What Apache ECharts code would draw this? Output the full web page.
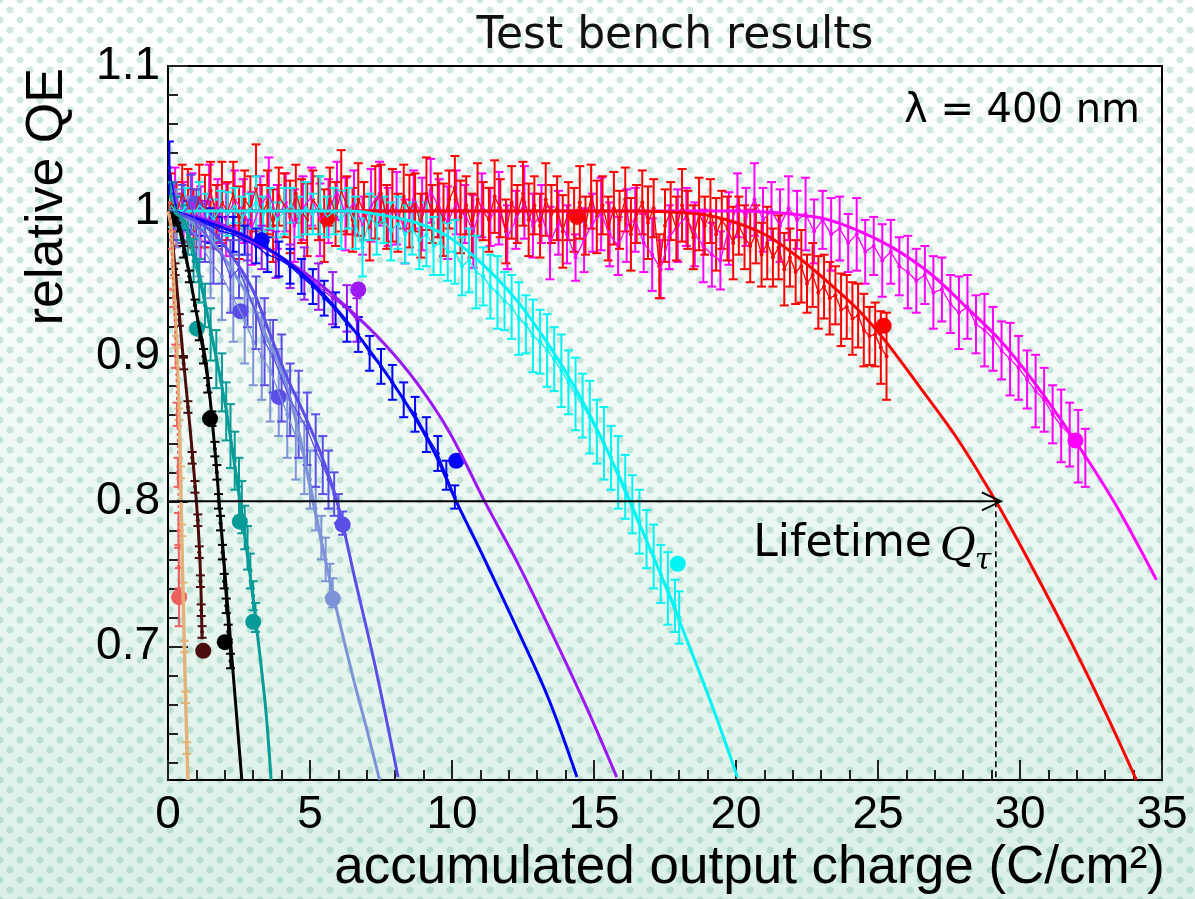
<!DOCTYPE html>
<html>
<head>
<meta charset="utf-8">
<title>Test bench results</title>
<script src="https://cdn.jsdelivr.net/npm/echarts@6/dist/echarts.min.js"></script>
<style>
  html, body { margin: 0; padding: 0; width: 1195px; height: 899px; overflow: hidden; }
  body {
    background-color: #e4f4ee;
    background-image:
      radial-gradient(circle, rgba(96,178,152,0.30) 3.2px, rgba(96,178,152,0) 3.9px),
      radial-gradient(circle, rgba(96,178,152,0.30) 3.2px, rgba(96,178,152,0) 3.9px),
      linear-gradient(to bottom, #ffffff 0%, #f8fcfa 30%, #e8f6f0 65%, #daf0e6 100%);
    background-size: 20px 20px, 20px 20px, 100% 100%;
    background-position: 0 0, 10px 10px, 0 0;
  }
  #chart { width: 1195px; height: 899px; }
</style>
</head>
<body>
<div id="chart"></div>
<script>
// ---- axes ----
const xMin = 0, xMax = 35, xStep = 5;
const yMin = 0.608, yMax = 1.1;
const yMajorTicks = [0.7, 0.8, 0.9, 1.0, 1.1];
const yMinorTicks = [0.62, 0.64, 0.66, 0.68, 0.72, 0.74, 0.76, 0.78, 0.82, 0.84, 0.86, 0.88,
                     0.92, 0.94, 0.96, 0.98, 1.02, 1.04, 1.06, 1.08];

// ---- lifetime marker (QE threshold and charge where the red tube reaches it) ----
const qeThreshold = 0.8;
const lifetimeQ = 29.15;

// ---- measured points: [charge, relative QE, error] ----
const redPoints = [
  [0.1,1.006,0.02],[0.3,0.998,0.022],[0.5,1.012,0.02],[0.7,1.004,0.025],[0.9,0.995,0.02],[1.1,1.01,0.022],
  [1.3,1.0,0.025],[1.5,1.014,0.02],[1.7,0.996,0.022],[1.9,1.006,0.028],[2.1,1.0,0.02],[2.3,1.012,0.022],
  [2.5,0.992,0.025],[2.7,1.008,0.02],[2.9,1.002,0.022],[3.1,1.016,0.03],[3.3,0.998,0.02],[3.5,1.006,0.022],
  [3.7,0.99,0.025],[3.9,1.01,0.02],[4.1,1.004,0.022],[4.3,0.996,0.025],[4.5,1.012,0.02],[4.7,1.0,0.022],
  [4.9,0.994,0.025],[5.1,1.008,0.02],[5.3,1.002,0.022],[5.5,0.99,0.025],[5.7,1.01,0.02],[5.9,0.998,0.022],
  [6.1,1.014,0.028],[6.3,1.004,0.02],[6.5,0.994,0.022],[6.7,1.008,0.025],[6.9,1.0,0.02],[7.1,0.988,0.022],
  [7.3,1.006,0.025],[7.5,1.012,0.02],[7.7,0.996,0.022],[7.9,1.004,0.025],[8.1,0.992,0.02],[8.3,1.01,0.022],
  [8.5,1.0,0.025],[8.7,1.006,0.02],[8.9,0.99,0.022],[9.1,1.012,0.025],[9.3,0.998,0.02],[9.5,1.004,0.022],
  [9.7,0.994,0.025],[9.9,1.008,0.02],[10.1,1.016,0.022],[10.3,0.996,0.025],[10.5,1.004,0.02],[10.7,0.99,0.022],
  [10.9,1.008,0.025],[11.1,1.0,0.02],[11.3,0.994,0.022],[11.5,1.01,0.025],[11.7,1.002,0.02],[11.9,0.986,0.022],
  [12.1,1.006,0.025],[12.3,0.998,0.02],[12.5,1.012,0.022],[12.7,0.994,0.025],[12.9,1.004,0.02],[13.1,0.99,0.022],
  [13.3,1.008,0.025],[13.5,0.998,0.02],[13.7,1.002,0.022],[13.9,0.986,0.025],[14.1,1.0,0.02],[14.3,0.994,0.022],
  [14.5,1.006,0.025],[14.7,0.99,0.02],[14.9,1.01,0.022],[15.1,0.996,0.025],[15.3,1.004,0.02],[15.5,0.988,0.022],
  [15.7,1.002,0.025],[15.9,0.994,0.02],[16.1,1.008,0.022],[16.3,0.984,0.025],[16.5,0.998,0.02],[16.7,1.006,0.022],
  [16.9,0.992,0.025],[17.1,1.002,0.02],[17.3,0.962,0.022],[17.5,0.99,0.025],[17.7,1.0,0.02],[17.9,0.988,0.022],
  [18.1,1.004,0.025],[18.3,0.994,0.02],[18.5,0.982,0.022],[18.7,0.998,0.025],[18.9,0.99,0.02],[19.1,1.0,0.022],
  [19.3,0.984,0.025],[19.5,0.994,0.02],[19.7,0.988,0.022],[19.9,0.978,0.025],[20.1,0.99,0.02],[20.3,0.982,0.022],
  [20.5,0.976,0.025],[20.7,0.984,0.02],[20.9,0.97,0.022],[21.1,0.978,0.025],[21.3,0.968,0.02],[21.5,0.975,0.022],
  [21.7,0.96,0.025],[21.9,0.968,0.02],[22.1,0.958,0.022],[22.3,0.962,0.025],[22.5,0.95,0.02],[22.7,0.956,0.022],
  [22.9,0.944,0.025],[23.1,0.948,0.022],[23.3,0.94,0.025],[23.5,0.942,0.02],[23.7,0.932,0.025],[23.9,0.934,0.022],
  [24.1,0.926,0.025],[24.3,0.928,0.022],[24.5,0.918,0.025],[24.7,0.914,0.02],[24.9,0.915,0.022],[25.1,0.906,0.025],
  [25.3,0.9,0.03]
];
const magentaPoints = [
  [0.25,1.01,0.02],[0.55,0.998,0.022],[0.85,1.006,0.02],[1.15,0.992,0.025],[1.45,1.012,0.02],[1.75,1.0,0.022],
  [2.05,0.994,0.025],[2.35,1.008,0.02],[2.65,1.0,0.022],[2.95,0.988,0.025],[3.25,1.004,0.02],[3.55,1.012,0.025],
  [3.85,0.996,0.022],[4.15,1.006,0.02],[4.45,0.99,0.025],[4.75,1.002,0.022],[5.05,1.01,0.02],[5.35,0.994,0.025],
  [5.65,1.0,0.022],[5.95,1.014,0.02],[6.25,0.998,0.025],[6.55,1.006,0.022],[6.85,0.99,0.02],[7.15,1.004,0.025],
  [7.45,1.012,0.022],[7.75,0.996,0.02],[8.05,1.002,0.025],[8.35,0.986,0.022],[8.65,1.008,0.02],[8.95,0.998,0.025],
  [9.25,1.014,0.022],[9.55,1.002,0.02],[9.85,0.992,0.025],[10.15,1.006,0.022],[10.45,0.998,0.02],[10.75,0.986,0.025],
  [11.05,1.004,0.022],[11.35,0.996,0.02],[11.65,1.002,0.025],[11.95,0.982,0.022],[12.25,0.994,0.02],[12.55,1.006,0.025],
  [12.85,0.99,0.022],[13.15,0.998,0.02],[13.45,0.978,0.025],[13.75,0.992,0.022],[14.05,0.984,0.02],[14.35,0.968,0.016],
  [14.65,0.98,0.022],[14.95,0.992,0.02],[15.25,0.998,0.025],[15.55,0.984,0.022],[15.85,0.976,0.02],[16.15,0.99,0.025],
  [16.45,0.994,0.022],[16.75,0.978,0.02],[17.05,0.97,0.025],[17.35,0.96,0.02],[17.65,0.982,0.022],[17.95,0.99,0.025],
  [18.25,0.996,0.02],[18.55,0.984,0.022],[18.85,0.976,0.025],[19.15,0.97,0.022],[19.45,0.966,0.02],[19.75,0.988,0.025],
  [20.05,1.004,0.022],[20.35,0.996,0.02],[20.65,1.008,0.025],[20.95,0.994,0.022],[21.25,1.0,0.02],[21.55,0.99,0.025],
  [21.85,1.002,0.022],[22.15,0.994,0.02],[22.45,0.998,0.025],[22.75,0.986,0.022],[23.05,0.994,0.02],[23.35,0.984,0.025],
  [23.65,0.988,0.022],[23.95,0.978,0.02],[24.25,0.984,0.025],[24.55,0.972,0.022],[24.85,0.976,0.02],[25.15,0.966,0.025],
  [25.45,0.972,0.022],[25.75,0.962,0.02],[26.05,0.958,0.025],[26.35,0.952,0.022],[26.65,0.956,0.02],[26.95,0.944,0.025],
  [27.25,0.946,0.022],[27.55,0.936,0.02],[27.85,0.93,0.025],[28.15,0.934,0.022],[28.45,0.922,0.02],[28.75,0.918,0.025],
  [29.05,0.912,0.022],[29.35,0.904,0.02],[29.65,0.898,0.025],[29.95,0.892,0.022],[30.25,0.884,0.02],[30.55,0.876,0.025],
  [30.85,0.87,0.022],[31.15,0.86,0.02],[31.45,0.852,0.025],[31.75,0.846,0.022],[32.05,0.838,0.025],[32.3,0.83,0.02]
];
const cyanPoints = [
  [0.1,1.004,0.015],[0.35,0.998,0.012],[0.6,1.002,0.014],[0.85,0.996,0.012],[1.1,1.004,0.016],[1.35,1.0,0.012],
  [1.6,0.994,0.014],[1.85,1.002,0.012],[2.1,0.998,0.015],[2.35,1.004,0.012],[2.6,0.996,0.014],[2.85,1.0,0.012],
  [3.1,1.006,0.018],[3.35,0.998,0.012],[3.6,1.002,0.014],[3.85,0.994,0.012],[4.1,1.0,0.016],[4.35,1.004,0.012],
  [4.6,0.996,0.014],[4.85,1.002,0.018],[5.1,0.998,0.014],[5.35,1.004,0.02],[5.6,0.996,0.014],[5.85,1.0,0.016],
  [6.1,0.994,0.02],[6.35,1.002,0.014],[6.6,0.992,0.018],[6.85,0.975,0.02],[7.1,0.996,0.016],[7.35,0.99,0.02],
  [7.6,0.994,0.016],[7.85,0.986,0.02],[8.1,0.992,0.018],[8.35,0.984,0.02],[8.6,0.988,0.018],[8.85,0.98,0.02],
  [9.1,0.984,0.022],[9.35,0.976,0.02],[9.6,0.978,0.022],[9.85,0.972,0.02],[10.1,0.972,0.022],[10.35,0.962,0.02],
  [10.6,0.966,0.022],[10.85,0.958,0.025],[11.1,0.955,0.02],[11.35,0.948,0.022],[11.6,0.944,0.025],[11.85,0.938,0.02],
  [12.1,0.934,0.022],[12.35,0.926,0.025],[12.6,0.922,0.02],[12.85,0.914,0.025],[13.1,0.91,0.022],[13.35,0.904,0.025],
  [13.6,0.898,0.022],[13.85,0.89,0.025],[14.1,0.882,0.022],[14.35,0.874,0.025],[14.6,0.866,0.022],[14.85,0.858,0.025],
  [15.1,0.848,0.022],[15.35,0.84,0.025],[15.6,0.83,0.022],[15.85,0.82,0.025],[16.1,0.81,0.022],[16.35,0.798,0.02],
  [16.6,0.786,0.022],[16.85,0.774,0.02],[17.1,0.762,0.022],[17.35,0.75,0.02],[17.6,0.74,0.025],[17.85,0.728,0.018],
  [18.0,0.72,0.018]
];
const purplePoints = [
  [0.3,1.0,0.012],[0.8,0.996,0.012],[1.3,0.993,0.014],[1.8,0.99,0.012],[2.3,0.985,0.015],[2.8,0.98,0.014],
  [3.3,0.975,0.015],[3.8,0.97,0.016],[4.3,0.962,0.015],[4.8,0.957,0.018],[5.3,0.948,0.016],[5.8,0.94,0.018],
  [6.3,0.933,0.016],[6.65,0.925,0.015]
];
const bluePoints = [
  [0.05,1.03,0.018],[0.3,1.0,0.01],[0.7,0.997,0.01],[1.1,0.993,0.01],[1.5,0.99,0.012],[1.9,0.986,0.01],
  [2.3,0.984,0.012],[2.7,0.98,0.01],[3.1,0.976,0.012],[3.5,0.97,0.012],[3.9,0.967,0.012],[4.3,0.962,0.012],
  [4.7,0.955,0.012],[5.1,0.948,0.012],[5.5,0.94,0.012],[5.9,0.932,0.012],[6.3,0.922,0.012],[6.7,0.915,0.012],
  [7.1,0.902,0.012],[7.5,0.893,0.012],[7.9,0.882,0.012],[8.3,0.87,0.012],[8.7,0.86,0.012],[9.1,0.846,0.012],
  [9.5,0.833,0.012],[9.8,0.818,0.01],[10.1,0.803,0.008]
];
const darkSlatePoints = [
  [0.2,1.0,0.02],[0.5,0.998,0.02],[0.8,1.005,0.02],[1.0,0.99,0.025],[1.3,0.985,0.02],[1.6,0.975,0.025],
  [1.9,0.97,0.02],[2.2,0.955,0.025],[2.5,0.96,0.02],[2.8,0.945,0.025],[3.1,0.93,0.025],[3.4,0.91,0.03],
  [3.7,0.9,0.025],[4.0,0.885,0.03],[4.3,0.87,0.025],[4.6,0.86,0.03],[4.9,0.85,0.025],[5.2,0.835,0.025],
  [5.45,0.825,0.02],[5.65,0.815,0.02],[5.85,0.805,0.015],[6.0,0.795,0.01],[6.15,0.785,0.008]
];
const lightSlatePoints = [
  [0.3,0.995,0.02],[0.7,0.99,0.02],[1.1,0.98,0.025],[1.5,0.965,0.025],[1.9,0.955,0.03],[2.3,0.94,0.03],
  [2.7,0.925,0.03],[3.0,0.91,0.03],[3.3,0.9,0.03],[3.6,0.89,0.035],[3.9,0.875,0.03],[4.2,0.86,0.03],
  [4.5,0.845,0.03],[4.8,0.83,0.025],[5.0,0.815,0.02],[5.2,0.795,0.015],[5.4,0.775,0.015],[5.55,0.76,0.015],
  [5.7,0.745,0.012],[5.8,0.737,0.01]
];
const tealPoints = [
  [0.1,1.01,0.01],[0.3,1.0,0.01],[0.5,0.992,0.012],[0.7,0.982,0.012],[0.9,0.966,0.015],[1.1,0.952,0.015],
  [1.3,0.935,0.015],[1.5,0.915,0.018],[1.7,0.898,0.02],[1.9,0.882,0.02],[2.05,0.862,0.02],[2.2,0.845,0.022],
  [2.35,0.828,0.02],[2.5,0.81,0.02],[2.6,0.796,0.018],[2.7,0.782,0.015],[2.8,0.768,0.015],[2.9,0.752,0.012],
  [3.0,0.735,0.01],[3.08,0.72,0.01]
];
const blackPoints = [
  [0.15,1.0,0.004],[0.35,0.99,0.004],[0.55,0.972,0.004],[0.75,0.955,0.004],[0.95,0.935,0.004],[1.1,0.915,0.004],
  [1.25,0.9,0.005],[1.4,0.88,0.005],[1.55,0.857,0.005],[1.65,0.836,0.005],[1.72,0.82,0.005],[1.78,0.8,0.005],
  [1.85,0.785,0.005],[1.92,0.765,0.005],[1.98,0.745,0.005],[2.05,0.728,0.005],[2.12,0.71,0.005],[2.2,0.69,0.005]
];
const brownPoints = [
  [0.1,0.99,0.004],[0.25,0.96,0.004],[0.4,0.925,0.004],[0.55,0.895,0.004],[0.7,0.865,0.004],[0.85,0.83,0.004],
  [0.95,0.81,0.004],[1.05,0.787,0.004],[1.1,0.765,0.004],[1.14,0.745,0.004],[1.17,0.725,0.004],[1.2,0.71,0.004]
];
const tanPoints = [
  [0.1,0.99,0.004],[0.2,0.95,0.004],[0.3,0.91,0.004],[0.38,0.86,0.004],[0.44,0.82,0.004],[0.48,0.78,0.004],
  [0.53,0.74,0.004],[0.58,0.7,0.004],[0.62,0.665,0.004],[0.66,0.63,0.004]
];
const salmonPoints = [
  [0.05,1.0,0.006],[0.12,0.98,0.006],[0.2,0.94,0.006],[0.27,0.9,0.008],[0.32,0.86,0.008],[0.35,0.82,0.01],
  [0.37,0.78,0.012],[0.38,0.755,0.015],[0.39,0.734,0.02]
];

// ---- fitted curves: [charge, relative QE] ----
const redFit = [[0,1.0],[4,1.0],[8,1.0],[12,1.0],[16,1.0],[18.7,0.998],[20,0.992],[21.1,0.983],[22.2,0.968],
  [23.3,0.950],[24.3,0.932],[25.2,0.912],[26.5,0.878],[27.8,0.843],[29.15,0.80],[30.5,0.752],[31.8,0.703],
  [33.0,0.655],[34.1,0.608]];
const magentaFit = [[0,1.0],[10,1.0],[16,1.0],[19.9,1.0],[22.8,0.996],[24.0,0.989],[25.5,0.975],[26.9,0.956],
  [28.1,0.934],[29.3,0.911],[30.5,0.882],[31.9,0.843],[33.3,0.80],[34.8,0.746]];
const cyanFit = [[0,1.0],[3,1.0],[6.4,1.0],[7.6,0.997],[8.75,0.992],[9.9,0.982],[11.1,0.963],[12.3,0.938],
  [13.4,0.908],[14.4,0.876],[15.3,0.842],[16.25,0.80],[17.3,0.752],[18.3,0.703],[19.2,0.657],[20.05,0.61]];
const purpleFit = [[0,1.0],[1,0.996],[2,0.99],[3.4,0.975],[5.0,0.955],[6.4,0.932],[7.6,0.909],[8.75,0.882],
  [9.9,0.848],[11.15,0.80],[12.3,0.758],[13.4,0.714],[14.6,0.664],[15.8,0.61]];
const blueFit = [[0,1.0],[1,0.995],[2,0.988],[2.8,0.982],[4.0,0.968],[5.2,0.948],[6.3,0.924],[7.4,0.896],
  [8.5,0.864],[9.4,0.833],[10.15,0.80],[11.1,0.762],[12.25,0.714],[13.4,0.664],[14.4,0.61]];
const darkSlateFit = [[0,1.0],[0.8,0.995],[1.6,0.985],[2.4,0.965],[3.0,0.945],[3.6,0.915],[4.2,0.885],
  [4.8,0.86],[5.4,0.832],[5.95,0.80],[6.6,0.745],[7.3,0.686],[8.1,0.61]];
const lightSlateFit = [[0,1.0],[0.8,0.993],[1.6,0.978],[2.4,0.955],[3.0,0.935],[3.5,0.912],[4.0,0.89],
  [4.6,0.848],[5.1,0.80],[5.8,0.737],[6.5,0.68],[7.0,0.643],[7.45,0.608]];
const tealFit = [[0,1.0],[0.3,0.998],[0.6,0.992],[1.06,0.96],[1.4,0.928],[1.76,0.893],[2.1,0.857],
  [2.53,0.80],[2.9,0.748],[3.2,0.70],[3.45,0.655],[3.63,0.608]];
const blackFit = [[0,1.0],[0.35,0.993],[0.7,0.962],[1.0,0.93],[1.34,0.895],[1.65,0.836],[1.8,0.80],
  [2.1,0.728],[2.35,0.668],[2.6,0.608]];
const brownFit = [[0,1.0],[0.1,0.99],[0.3,0.95],[0.53,0.90],[0.78,0.85],[1.0,0.80],[1.1,0.77],[1.16,0.74],[1.2,0.705]];
const tanFit = [[0,1.0],[0.1,0.99],[0.2,0.95],[0.32,0.90],[0.42,0.84],[0.48,0.78],[0.55,0.72],[0.62,0.665],[0.7,0.608]];

// ---- highlighted measurements (large filled circles) ----
const redDots = [[5.6,0.995],[14.4,0.996],[25.2,0.921]];
const magentaDots = [[31.95,0.842]];
const cyanDots = [[17.95,0.757]];
const purpleDots = [[6.7,0.946]];
const blueDots = [[3.3,0.98],[10.15,0.828]];
const darkSlateDots = [[0.95,1.005],[2.55,0.931],[3.9,0.872],[6.15,0.784]];
const lightSlateDots = [[5.8,0.733]];
const tealDots = [[1.02,0.919],[2.53,0.786],[3.0,0.717]];
const blackDots = [[0.25,0.995],[1.48,0.857],[2.0,0.703]];
const brownDots = [[1.24,0.697]];
const salmonDots = [[0.39,0.734]];

const tubes = [
  { name: 'magenta',    color: '#ff00ff', points: magentaPoints,    fit: magentaFit,    dots: magentaDots },
  { name: 'red',        color: '#ff0000', points: redPoints,        fit: redFit,        dots: redDots },
  { name: 'cyan',       color: '#00f4f4', points: cyanPoints,       fit: cyanFit,       dots: cyanDots },
  { name: 'purple',     color: '#9b19f5', points: purplePoints,     fit: purpleFit,     dots: purpleDots },
  { name: 'blue',       color: '#0000ff', points: bluePoints,       fit: blueFit,       dots: blueDots },
  { name: 'lightSlate', color: '#7d93d8', points: lightSlatePoints, fit: lightSlateFit, dots: lightSlateDots },
  { name: 'darkSlate',  color: '#5b4ee6', points: darkSlatePoints,  fit: darkSlateFit,  dots: darkSlateDots },
  { name: 'teal',       color: '#089b98', points: tealPoints,       fit: tealFit,       dots: tealDots },
  { name: 'black',      color: '#000000', points: blackPoints,      fit: blackFit,      dots: blackDots },
  { name: 'brown',      color: '#4a0d0d', points: brownPoints,      fit: brownFit,      dots: brownDots },
  { name: 'tan',        color: '#e3b27a', points: tanPoints,        fit: tanFit,        dots: [] },
  { name: 'salmon',     color: '#ee5f5f', points: salmonPoints,     fit: null,          dots: salmonDots, dashed: true }
];

const axisFont = 'Liberation Sans, Arial, Helvetica, sans-serif';
const slideFont = 'DejaVu Sans, sans-serif';

function errorBarSeries(tube) {
  const color = tube.color;
  return {
    type: 'custom', name: tube.name + ' errors', coordinateSystem: 'cartesian2d',
    clip: true, silent: true, data: tube.points, encode: { x: 0, y: 1 },
    renderItem: function (params, api) {
      const x = api.value(0), y = api.value(1), e = api.value(2);
      const c = api.coord([x, y]);
      const t = api.coord([x, y + e]);
      const b = api.coord([x, y - e]);
      const w = 4.5;
      const st = { stroke: color, lineWidth: 2 };
      return {
        type: 'group',
        children: [
          { type: 'line', shape: { x1: c[0], y1: t[1], x2: c[0], y2: b[1] }, style: st },
          { type: 'line', shape: { x1: c[0] - w, y1: t[1], x2: c[0] + w, y2: t[1] }, style: st },
          { type: 'line', shape: { x1: c[0] - w, y1: b[1], x2: c[0] + w, y2: b[1] }, style: st },
          { type: 'circle', shape: { cx: c[0], cy: c[1], r: 2 }, style: { fill: color } }
        ]
      };
    }
  };
}

const series = [];
tubes.forEach(function (tube) {
  series.push({
    type: 'line', name: tube.name + ' data', data: tube.points.map(p => [p[0], p[1]]),
    showSymbol: false, silent: true,
    lineStyle: { color: tube.color, width: 1.3, type: tube.dashed ? [3, 3] : 'solid' }
  });
  series.push(errorBarSeries(tube));
  if (tube.fit) {
    series.push({
      type: 'line', name: tube.name + ' fit', data: tube.fit, showSymbol: false, silent: true,
      smooth: 0.35,
      lineStyle: { color: tube.color, width: tube.name === 'tan' ? 3.5 : 3 }
    });
  }
  if (tube.dots.length) {
    series.push({
      type: 'scatter', name: tube.name + ' points', data: tube.dots, symbol: 'circle', symbolSize: 16,
      silent: true, itemStyle: { color: tube.color, opacity: 1 }
    });
  }
});

// lifetime arrow, dashed drop line and its label
series.push({
  type: 'custom', name: 'lifetime', coordinateSystem: 'cartesian2d', silent: true,
  data: [[lifetimeQ, qeThreshold]], encode: { x: 0, y: 1 }, z: 10,
  renderItem: function (params, api) {
    const q = api.value(0), t = api.value(1);
    const s = api.coord([xMin, t]);
    const e = api.coord([q, t]);
    const b = api.coord([q, yMin]);
    const tip = e[0] + 5;
    return {
      type: 'group',
      children: [
        { type: 'line', shape: { x1: s[0], y1: s[1], x2: tip, y2: e[1] }, style: { stroke: '#000', lineWidth: 2 } },
        { type: 'polyline', shape: { points: [[tip - 19, e[1] - 9], [tip, e[1]], [tip - 19, e[1] + 9]] },
          style: { stroke: '#000', lineWidth: 2, fill: null } },
        { type: 'line', shape: { x1: e[0], y1: e[1], x2: e[0], y2: b[1] },
          style: { stroke: '#000', lineWidth: 1.6, lineDash: [6, 4] } },
        { type: 'text', x: e[0] - 64, y: e[1] + 43,
          style: { text: 'Lifetime', font: '44px ' + slideFont, fill: '#000',
                   align: 'right', textAlign: 'right', verticalAlign: 'middle', textVerticalAlign: 'middle' } },
        { type: 'text', x: e[0] - 20, y: e[1] + 47,
          style: { text: 'Q', font: 'italic 44px DejaVu Serif, serif', fill: '#000',
                   align: 'right', textAlign: 'right', verticalAlign: 'middle', textVerticalAlign: 'middle' } },
        { type: 'text', x: e[0] - 21, y: e[1] + 60,
          style: { text: 'τ', font: 'italic 30px DejaVu Serif, serif', fill: '#000',
                   align: 'left', textAlign: 'left', verticalAlign: 'middle', textVerticalAlign: 'middle' } }
      ]
    };
  }
});

const chart = echarts.init(document.getElementById('chart'), null, { renderer: 'canvas' });
chart.setOption({
  animation: false,
  backgroundColor: 'transparent',
  tooltip: { show: false },
  grid: {
    left: 168, right: 33, top: 66, bottom: 119,
    containLabel: false, outerBoundsMode: 'none',
    show: true, borderColor: '#000', borderWidth: 2, backgroundColor: 'transparent'
  },
  xAxis: {
    type: 'value', min: xMin, max: xMax, interval: xStep,
    axisLine: { show: true, onZero: false, lineStyle: { color: '#000', width: 2 } },
    axisTick: { show: true, inside: true, length: 20, lineStyle: { color: '#222', width: 2 } },
    minorTick: { show: true, splitNumber: 5, length: 10, lineStyle: { color: '#222', width: 2 } },
    axisLabel: { show: true, margin: 12, color: '#000', fontSize: 46, fontFamily: axisFont,
                 showMinLabel: true, showMaxLabel: true },
    splitLine: { show: false }, minorSplitLine: { show: false }
  },
  yAxis: [
    {
      type: 'value', min: yMin, max: yMax, position: 'left',
      axisLine: { show: true, onZero: false, lineStyle: { color: '#000', width: 2 } },
      axisTick: { show: true, inside: true, length: 20, customValues: yMajorTicks,
                  lineStyle: { color: '#222', width: 2 } },
      axisLabel: { show: true, customValues: yMajorTicks, margin: 8, color: '#000', fontSize: 46,
                   fontFamily: axisFont, padding: [8, 0, 0, 0],
                   formatter: v => String(Number(v.toFixed(1))) },
      splitLine: { show: false }
    },
    {
      type: 'value', min: yMin, max: yMax, position: 'left', offset: 0,
      axisLine: { show: false },
      axisTick: { show: true, inside: true, length: 10, customValues: yMinorTicks,
                  lineStyle: { color: '#222', width: 2 } },
      axisLabel: { show: false },
      splitLine: { show: false }
    }
  ],
  graphic: [
    { type: 'text', x: 675, y: 37, silent: true,
      style: { text: 'Test bench results', font: '44px ' + slideFont, fill: '#111',
               align: 'center', textAlign: 'center', verticalAlign: 'middle', textVerticalAlign: 'middle' } },
    { type: 'text', x: 1140, y: 112, silent: true,
      style: { text: 'λ = 400 nm', font: '40px ' + slideFont, fill: '#000',
               align: 'right', textAlign: 'right', verticalAlign: 'middle', textVerticalAlign: 'middle' } },
    { type: 'text', x: 1165, y: 868, silent: true,
      style: { text: 'accumulated output charge (C/cm²)', font: '53px ' + axisFont, fill: '#000',
               align: 'right', textAlign: 'right', verticalAlign: 'middle', textVerticalAlign: 'middle' } },
    { type: 'text', x: 48, y: 68, rotation: Math.PI / 2, silent: true,
      style: { text: 'relative QE', font: '52px ' + axisFont, fill: '#000',
               align: 'right', textAlign: 'right', verticalAlign: 'middle', textVerticalAlign: 'middle' } }
  ],
  series: series
});
</script>
</body>
</html>
